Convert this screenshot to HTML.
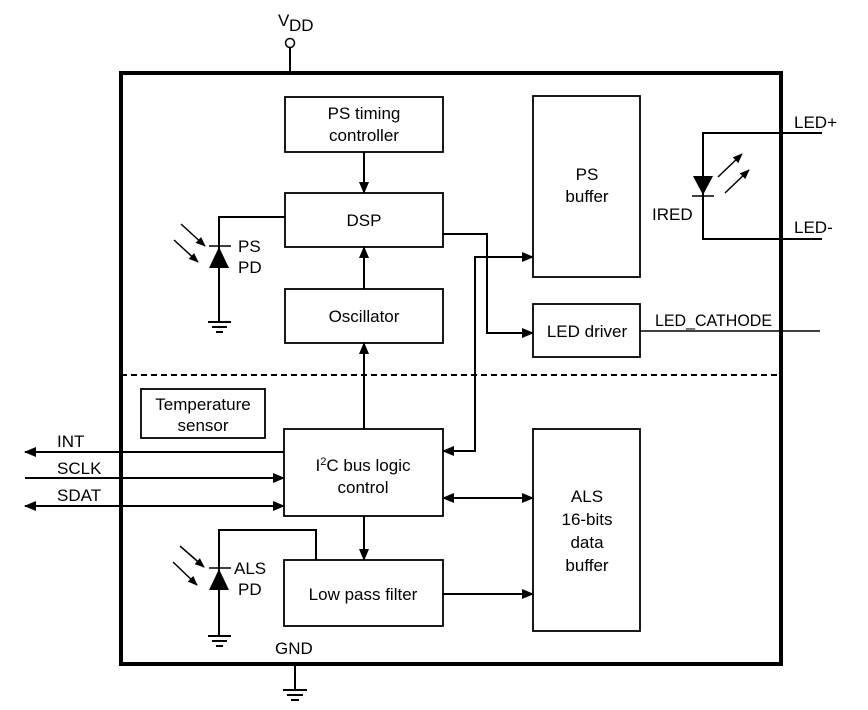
<!DOCTYPE html>
<html><head><meta charset="utf-8"><style>
html,body{margin:0;padding:0;background:#fff}
svg{display:block}
text{font-family:"Liberation Sans",Arial,sans-serif;font-size:17px;fill:#000}
</style></head><body>
<svg width="868" height="710" viewBox="0 0 868 710" xmlns="http://www.w3.org/2000/svg">
<defs>
<marker id="a" markerUnits="userSpaceOnUse" markerWidth="12" markerHeight="10" refX="11" refY="5" orient="auto-start-reverse">
<path d="M0,0 L12,5 L0,10 z" fill="#000"/></marker>
<marker id="s" markerUnits="userSpaceOnUse" markerWidth="10" markerHeight="8" refX="9" refY="4" orient="auto">
<path d="M0,0 L10,4 L0,8 z" fill="#000"/></marker>
</defs>
<g fill="none" stroke="#000">
<rect x="121" y="73" width="660" height="591" stroke-width="4"/>
<line x1="290" y1="48" x2="290" y2="73" stroke-width="2"/>
<circle cx="290" cy="43" r="4.5" stroke-width="1.5" fill="#fff"/>
<line x1="121" y1="375" x2="781" y2="375" stroke-width="2" stroke-dasharray="6,4"/>
<g stroke-width="1.8">
<rect x="285" y="97" width="158" height="55"/>
<rect x="285" y="193" width="158" height="54"/>
<rect x="285" y="289" width="158" height="54"/>
<rect x="533" y="96" width="107" height="181"/>
<rect x="533" y="304" width="107" height="53"/>
<rect x="141" y="389" width="124" height="49"/>
<rect x="284" y="429" width="159" height="87"/>
<rect x="533" y="429" width="107" height="202"/>
<rect x="284" y="560" width="159" height="66"/>
</g>
<g stroke-width="2">
<line x1="364" y1="152" x2="364" y2="193" marker-end="url(#a)"/>
<line x1="364" y1="289" x2="364" y2="247" marker-end="url(#a)"/>
<line x1="364" y1="429" x2="364" y2="343" marker-end="url(#a)"/>
<polyline points="443,234 487,234 487,333 533,333" marker-end="url(#a)"/>
<polyline points="533,257 475,257 475,451 443,451" marker-start="url(#a)" marker-end="url(#a)"/>
<line x1="443" y1="498" x2="533" y2="498" marker-start="url(#a)" marker-end="url(#a)"/>
<line x1="364" y1="516" x2="364" y2="560" marker-end="url(#a)"/>
<line x1="443" y1="594" x2="533" y2="594" marker-end="url(#a)"/>
<line x1="284" y1="452" x2="25" y2="452" marker-end="url(#a)"/>
<line x1="25" y1="478" x2="284" y2="478" marker-end="url(#a)"/>
<line x1="25" y1="506" x2="284" y2="506" marker-start="url(#a)" marker-end="url(#a)"/>
<polyline points="285,217 219,217 219,322"/>
<polyline points="316,560 316,530 219,530 219,636"/>
<polyline points="822,133 703,133 703,239 822,239"/>
</g>
<line x1="640" y1="331" x2="820" y2="331" stroke-width="1.4"/>
<g stroke-width="1.5">
<line x1="209" y1="246" x2="231" y2="246"/>
<line x1="209" y1="568" x2="231" y2="568"/>
<line x1="692" y1="196" x2="714" y2="196"/>
<line x1="181" y1="224" x2="205" y2="246" marker-end="url(#s)"/>
<line x1="174" y1="240" x2="198" y2="262" marker-end="url(#s)"/>
<line x1="180" y1="546" x2="204" y2="567" marker-end="url(#s)"/>
<line x1="173" y1="562" x2="197" y2="585" marker-end="url(#s)"/>
<line x1="718" y1="177" x2="742" y2="154" marker-end="url(#s)"/>
<line x1="725" y1="193" x2="749" y2="170" marker-end="url(#s)"/>
</g>
<g stroke-width="2">
<line x1="208" y1="322" x2="231" y2="322"/><line x1="212" y1="327" x2="227" y2="327"/><line x1="216" y1="332" x2="223" y2="332"/>
<line x1="208" y1="636" x2="231" y2="636"/><line x1="212" y1="641" x2="227" y2="641"/><line x1="216" y1="646" x2="223" y2="646"/>
<line x1="295" y1="664" x2="295" y2="690"/>
<line x1="283" y1="690" x2="307" y2="690"/><line x1="287" y1="695" x2="303" y2="695"/><line x1="291" y1="700" x2="299" y2="700"/>
</g>
</g>
<g fill="#000">
<path d="M209,268 L219,247 L229,268 z"/>
<path d="M209,590 L219,569 L229,590 z"/>
<path d="M693,176 L703,195 L713,176 z"/>
</g>
<text x="278" y="26" font-size="18">V</text><text x="289" y="31" font-size="12">DD</text>
<text x="364" y="119" text-anchor="middle">PS timing</text>
<text x="364" y="141" text-anchor="middle">controller</text>
<text x="364" y="226" text-anchor="middle">DSP</text>
<text x="364" y="322" text-anchor="middle">Oscillator</text>
<text x="587" y="180" text-anchor="middle">PS</text>
<text x="587" y="202" text-anchor="middle">buffer</text>
<text x="587" y="337" text-anchor="middle">LED driver</text>
<text x="203" y="410" text-anchor="middle">Temperature</text>
<text x="203" y="431" text-anchor="middle">sensor</text>
<text x="363" y="471" text-anchor="middle">I<tspan font-size="11" dy="-6">2</tspan><tspan dy="6">C bus logic</tspan></text>
<text x="363" y="493" text-anchor="middle">control</text>
<text x="363" y="600" text-anchor="middle">Low pass filter</text>
<text x="587" y="502" text-anchor="middle">ALS</text>
<text x="587" y="525" text-anchor="middle">16-bits</text>
<text x="587" y="548" text-anchor="middle">data</text>
<text x="587" y="571" text-anchor="middle">buffer</text>
<text x="238" y="252" font-size="15">PS</text>
<text x="238" y="273" font-size="15">PD</text>
<text x="234" y="574" font-size="15">ALS</text>
<text x="238" y="595" font-size="15">PD</text>
<text x="652" y="220">IRED</text>
<text x="794" y="128">LED+</text>
<text x="794" y="233">LED-</text>
<text x="655" y="326" font-size="13.5" textLength="117" lengthAdjust="spacingAndGlyphs">LED_CATHODE</text>
<text x="57" y="447">INT</text>
<text x="57" y="474">SCLK</text>
<text x="57" y="501">SDAT</text>
<text x="275" y="654">GND</text>
</svg>
</body></html>
